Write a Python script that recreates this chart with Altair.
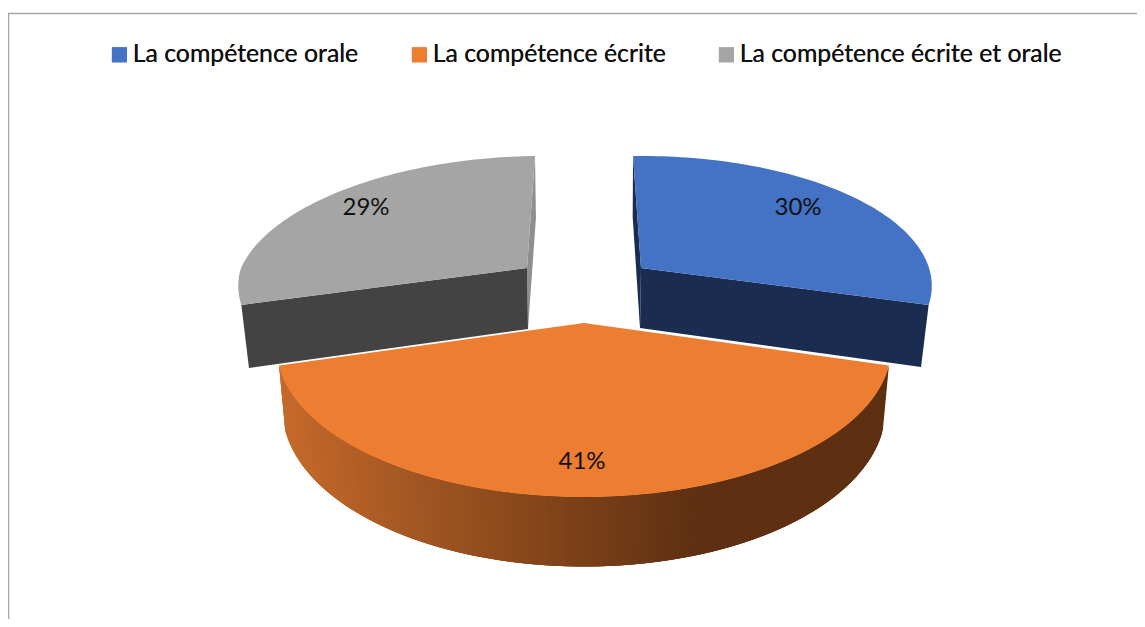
import math
import altair as alt
import pandas as pd

categories = ["La compétence orale", "La compétence écrite", "La compétence écrite et orale"]
shares = [30, 41, 29]
labels = ["30%", "41%", "29%"]
top_colors = ["#4472C4", "#ED7D31", "#A5A5A5"]
wall_colors = ["#1A2C50", None, "#434343"]
rear_colors = ["#1A2C50", None, "#8F8F8F"]
gradient_x = [285, 711, 889]
gradient_rgb = [(198, 106, 43), (94, 48, 17), (94, 48, 17)]
label_pos = [(790, 200), (574, 454), (358, 200)]

START = -1.8
OFF = 8
# slice -> top face (apex x, apex y, R, k, p, skew), bottom face likewise
TOP = [(641, 268, 288, 127.5, .138, 0), (584, 323, 303, 145.5, .164, 0), (527, 268, 286, 127.5, .138, -18.1)]
BOT = [(640, 328, 277, 132.3, .192, 0), (584, 385, 298, 154, .152, 0), (528, 329, 275, 132.3, .192, -18.1)]


def pt(a, g):
    ax, ay, R, k, p, s = g
    r = math.radians(a)
    x, y = math.sin(r), -math.cos(r)
    d = 1 - p * y
    return [ax + (R * x + s * min(y, 0)) / d - OFF, ay + k * y / d - OFF]


def apex(g):
    return [g[0] - OFF, g[1] - OFF]


def feature(ring, **props):
    return {"type": "Feature", "properties": props,
            "geometry": {"type": "Polygon", "coordinates": [ring + [ring[0]]]}}


def hexcolor(x):
    if x >= gradient_x[1]:
        c = gradient_rgb[1]
    else:
        t = max(0, (x - gradient_x[0]) / (gradient_x[1] - gradient_x[0]))
        c = [gradient_rgb[0][i] + t * (gradient_rgb[1][i] - gradient_rgb[0][i]) for i in range(3)]
    return "#%02x%02x%02x" % tuple(int(round(v)) for v in c)


spans = []
acc = START
for v in shares:
    spans.append((acc, acc + v * 3.6))
    acc += v * 3.6

tops, back_walls, front_walls = [], [], []
for i, (a0, a1) in enumerate(spans):
    n = 80
    arc = [pt(a0 + (a1 - a0) * j / n, TOP[i]) for j in range(n + 1)]
    tops.append(feature([apex(TOP[i])] + arc, category=categories[i]))

# blue
a0, a1 = spans[0]
back_walls.append(feature([pt(a0, TOP[0]), apex(TOP[0]), apex(BOT[0]), pt(a0, BOT[0])], fill=rear_colors[0]))
back_walls.append(feature([apex(TOP[0]), pt(a1, TOP[0]), pt(a1, BOT[0]), apex(BOT[0])], fill=wall_colors[0]))
# gray
a0, a1 = spans[2]
back_walls.append(feature([pt(a1, TOP[2]), apex(TOP[2]), apex(BOT[2]), pt(a1, BOT[2])], fill=rear_colors[2]))
back_walls.append(feature([apex(TOP[2]), pt(a0, TOP[2]), pt(a0, BOT[2]), apex(BOT[2])], fill=wall_colors[2]))
# orange rim: every strip runs on under the next one, so no seams show
a0, a1 = spans[1]
n = 150
for j in range(n):
    b0 = a0 + (a1 - a0) * j / n
    b1 = a0 + (a1 - a0) * min(j + 3, n) / n
    q = [pt(b0, TOP[1]), pt(b1, TOP[1]), pt(b1, BOT[1]), pt(b0, BOT[1])]
    front_walls.append(feature(q, fill=hexcolor((q[0][0] + q[3][0]) / 2 + OFF)))
front_walls.reverse()

W, H = 1129, 611
proj = dict(type="identity", scale=1, translate=[0, 0])


def wall_layer(feats):
    return alt.Chart(alt.Data(values=feats)).mark_geoshape(strokeWidth=0).encode(
        fill=alt.Fill("properties.fill:N", scale=None),
    ).project(**proj)


def top_layer(feats, legend):
    return alt.Chart(alt.Data(values=feats)).mark_geoshape(strokeWidth=0).encode(
        fill=alt.Fill("properties.category:N",
                      scale=alt.Scale(domain=categories, range=top_colors),
                      legend=legend),
    ).project(**proj)


legend = alt.Legend(orient="none", legendX=99, legendY=34, direction="horizontal", columns=3, title=None,
                    symbolType="square", symbolSize=225, symbolStrokeWidth=0, symbolOpacity=1,
                    labelFont="Lato", labelFontSize=24.8, labelColor="#111111", labelLimit=500,
                    labelOffset=1, columnPadding=48, padding=0)

frame = alt.Chart(alt.Data(values=[{"type": "Feature", "properties": {}, "geometry": {
    "type": "LineString", "coordinates": [[0.5, H], [0.5, 5.5], [W, 5.5]]}}])).mark_geoshape(
    filled=False, stroke="#A6A6A6", strokeWidth=1.5).project(**proj)

text_df = pd.DataFrame({"label": labels, "lon": [p[0] for p in label_pos], "lat": [p[1] for p in label_pos]})
texts = alt.Chart(text_df).mark_text(font="Lato", fontSize=24, color="#111111", align="center", baseline="middle").encode(
    longitude="lon:Q", latitude="lat:Q", text="label:N").project(**proj)

chart = alt.layer(
    frame,
    wall_layer(back_walls),
    top_layer([tops[0], tops[2]], legend),
    wall_layer(front_walls),
    top_layer([tops[1]], legend),
    texts,
).resolve_scale(fill="independent", stroke="independent").properties(
    width=W, height=H, padding=0, autosize=alt.AutoSizeParams(type="none"), background="white"
).configure_view(stroke=None)

chart.save("out.html", embed_options={"renderer": "svg", "actions": False})
